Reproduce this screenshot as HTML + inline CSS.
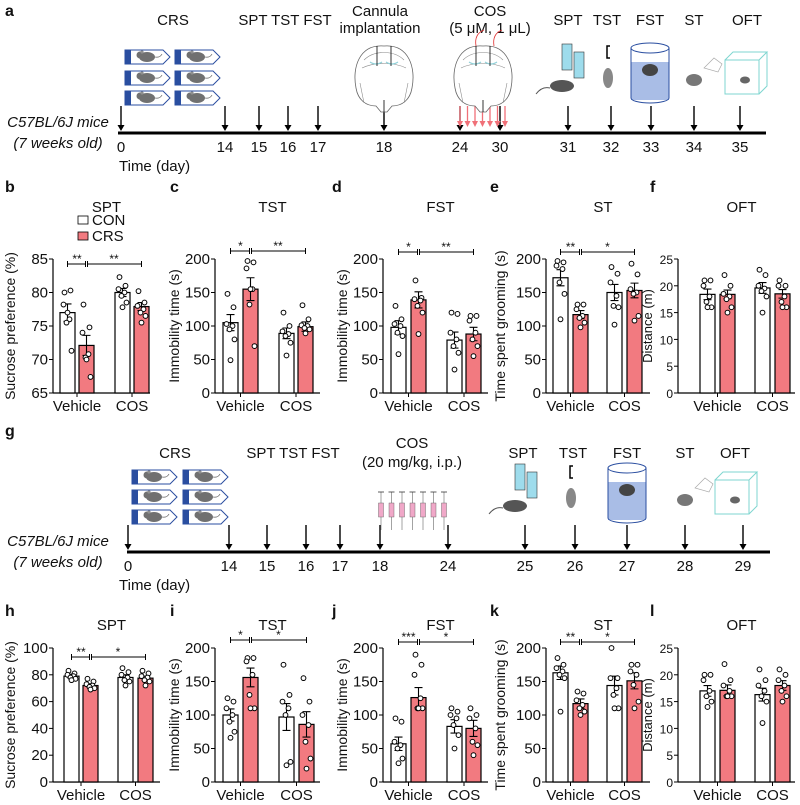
<!DOCTYPE html>
<html><head><meta charset="utf-8">
<style>
html,body{margin:0;padding:0;background:#fff;}
svg{display:block;font-family:"Liberation Sans",sans-serif;}
</style></head>
<body>
<svg id="fig" width="800" height="805" viewBox="0 0 800 805" xmlns="http://www.w3.org/2000/svg">
<defs>
<g id="mouse"><ellipse cx="0" cy="0" rx="8" ry="5" fill="#707070"/><circle cx="-7" cy="-2" r="3.5" fill="#707070"/><circle cx="-5" cy="-5" r="1.6" fill="#909090"/><path d="M8 0 q5 1 7 -3" stroke="#707070" fill="none" stroke-width="0.8"/></g>
<g id="tube"><path d="M0 0 h38 l7 7 l-7 7 h-38 z" fill="#fff" stroke="#2a4ea0" stroke-width="1"/><rect x="0" y="0" width="6" height="14" fill="#2a4ea0"/><use href="#mouse" x="22" y="7"/></g>
<g id="brain"><path d="M0 -32 C25 -34 32 -10 28 10 C26 22 18 28 8 28 L3 34 L-3 34 L-8 28 C-18 28 -26 22 -28 10 C-32 -10 -25 -34 0 -32 Z" fill="#fff" stroke="#666" stroke-width="0.8"/><path d="M-20 -18 C-10 -28 10 -28 20 -18 M-22 -10 C-10 -16 10 -16 22 -10 M-24 5 L-20 25 M24 5 L20 25" stroke="#888" fill="none" stroke-width="0.6"/><path d="M-14 -16 q6 4 12 0 M2 -16 q6 4 12 0" stroke="#8fd0d8" fill="none" stroke-width="1.2"/><line x1="-7" y1="-32" x2="-7" y2="-12" stroke="#000" stroke-width="0.8"/><line x1="7" y1="-32" x2="7" y2="-12" stroke="#000" stroke-width="0.8"/><line x1="0" y1="22" x2="0" y2="34" stroke="#000" stroke-width="0.8"/></g>
</defs>
<g id="static" font-size="13"></g>
<g id="charts"></g>
</svg>
<script>
// ===== chart data =====
const groups = ["CON-Vehicle","CRS-Vehicle","CON-COS","CRS-COS"];
const xCats = ["Vehicle","COS"];
const panelTitles = ["SPT","TST","FST","ST","OFT"];
const yTitlesTop = ["Sucrose preference (%)","Immobility time (s)","Immobility time (s)","Time spent grooming (s)","Distance (m)"];

const bMeans=[77,72.1,80,77.9]; const bErr=[1.3,1.5,0.6,0.6];
const bPts=[[80,80.3,78.2,76,75.5,71.3,77],[78.2,74.8,74,70.8,70.3,67.4,70],[82.3,81,80.5,80,79.5,78.5,77.8],[80.2,78.5,78,77.5,77,76.5,75.5]];
const cMeans=[105,155,89,99]; const cErr=[12,17,8,7];
const cPts=[[148,128,103,100,95,80,49],[197,195,186,155,132,70,155],[120,100,92,88,85,75,56],[131,110,101,100,97,95,89]];
const dMeans=[98,139,79,88]; const dErr=[10,12,12,10];
const dPts=[[130,110,103,100,90,85,58],[168,142,140,138,130,120,88],[120,118,90,80,70,60,35],[115,115,108,90,80,70,55]];
const eMeans=[172,117,150,153]; const eErr=[12,6,12,11];
const ePts=[[197,195,190,185,165,148,110],[132,132,125,115,112,105,98],[188,178,165,145,130,128,102],[193,177,155,150,148,115,108]];
const fMeans=[18.4,18.4,19.6,18.5]; const fErr=[1,0.8,1,0.8];
const fPts=[[21,21,20,18,17,16,16],[22,20,18.5,18,17.5,16,15],[23,22,20,19.5,19,18,15],[21,20,20,18,17,16,16]];

const hMeans=[79,72,78,77.5]; const hErr=[1.5,1.3,2,1.5];
const hPts=[[83,81,80,79,78,77,76],[77,75,73,72,71,70,69],[85,82,80,78,76,75,72],[83,81,79,78,76,75,72]];
const iMeans=[100,156,97,86]; const iErr=[9,14,20,19];
const iPts=[[125,120,110,100,90,75,66],[185,185,180,160,130,110,110],[175,130,120,110,100,30,25],[155,120,100,85,60,35,20]];
const jMeans=[57,126,83,80]; const jErr=[10,15,10,12];
const jPts=[[95,90,60,55,50,35,28],[190,175,160,125,110,110,110],[110,105,100,95,85,70,50],[110,100,95,80,60,55,40]];
const kMeans=[163,117,144,151]; const kErr=[10,7,14,12];
const kPts=[[185,175,170,165,160,155,105],[135,132,122,115,110,105,100],[200,155,155,140,130,110,110],[175,175,165,160,145,120,110]];
const lMeans=[17,17.1,16.3,18]; const lErr=[1,1,1.2,0.9];
const lPts=[[20,20,19,17,16,15,14],[22,19,18,17,16,16,16],[21,19,18,17,16,15,11],[21,20,19,18,17,16,15]];

const ticksSPT1=[65,70,75,80,85], ticks200=[0,50,100,150,200], ticks25=[0,5,10,15,20,25], ticksSPT2=[0,20,40,60,80,100];
const sigTop=[["**","**"],["*","**"],["*","**"],["**","*"],null];
const sigBot=[["**","*"],["*","*"],["***","*"],["**","*"],null];

const timelineA=[0,14,15,16,17,18,24,30,31,32,33,34,35];
const timelineG=[0,14,15,16,17,18,24,25,26,27,28,29];

// ===== drawing =====
const NS="http://www.w3.org/2000/svg";
const root=document.getElementById('charts');
const st=document.getElementById('static');
function mk(tag,attrs,parent){const e=document.createElementNS(NS,tag);for(const k in attrs)e.setAttribute(k,attrs[k]);(parent||root).appendChild(e);return e;}
function txt(x,y,s,size,parent,anchor,extra){const t=mk('text',Object.assign({x:x,y:y,'font-size':size,'text-anchor':anchor||'middle',fill:'#111'},extra||{}),parent);t.textContent=s;return t;}

[["a",5,16],["b",5,192],["c",170,192],["d",332,192],["e",490,192],["f",650,192],["g",5,436],["h",5,616],["i",170,616],["j",332,616],["k",490,616],["l",650,616]].forEach(p=>{
  const t=txt(p[1],p[2],p[0],16,st,'start',{'font-weight':'bold'});
  
  
});

function timeline(g,yLine,x0,x1,days,dayX,label){
  const grp=mk('g',{},st);
  
  
  mk('line',{x1:x0,y1:yLine,x2:x1,y2:yLine,stroke:'#000','stroke-width':3},grp);
  days.forEach((d,i)=>{
    const x=dayX[i];
    mk('line',{x1:x,y1:yLine-27,x2:x,y2:yLine-6,stroke:'#000','stroke-width':1.4},grp);
    mk('path',{d:`M${x-3.5} ${yLine-8} L${x+3.5} ${yLine-8} L${x} ${yLine-2} Z`,fill:'#000'},grp);
    const t=txt(x,yLine+19,String(d),15,grp);
    
    
  });
  txt(58,yLine-6,"C57BL/6J mice",15,grp,'middle',{'font-style':'italic'});
  txt(58,yLine+15,"(7 weeks old)",15,grp,'middle',{'font-style':'italic'});
  txt(119,yLine+38,"Time (day)",15,grp,'start');
  return grp;
}
const ga=timeline('a',133,118,766,timelineA,[121,225,259,288,318,384,460,500,568,611,651,694,740],'a');
[["CRS",173,25],["SPT TST FST",285,25],["Cannula",380,16],["implantation",380,33],["COS",490,16],["(5 μM, 1 μL)",490,33],["SPT",568,25],["TST",607,25],["FST",650,25],["ST",694,25],["OFT",747,25]].forEach(l=>txt(l[1],l[2],l[0],15,ga));
for(let k=0;k<7;k++){const x=460+k*7.5;mk('line',{x1:x,y1:106,x2:x,y2:124,stroke:'#f07078','stroke-width':1.3},ga);mk('path',{d:`M${x-3} ${121} L${x+3} 121 L${x} 127 Z`,fill:'#f07078'},ga);}
[[125,50],[175,50],[125,71],[175,71],[125,91],[175,91]].forEach(p=>mk('use',{href:'#tube',x:p[0],y:p[1]},ga));
mk('use',{href:'#brain',x:384,y:78},ga);mk('use',{href:'#brain',x:483,y:78},ga);
mk('path',{d:'M476 46 q-2 -12 8 -16 M494 46 q-2 -12 8 -16',stroke:'#e03030',fill:'none','stroke-width':0.8},ga);
function iconsRight(grp,xs,y){
  mk('rect',{x:xs[0]-8,y:y-36,width:10,height:26,fill:'#9edcec',stroke:'#333','stroke-width':0.6},grp);
  mk('rect',{x:xs[0]+4,y:y-28,width:10,height:26,fill:'#9edcec',stroke:'#333','stroke-width':0.6},grp);
  mk('ellipse',{cx:xs[0]-8,cy:y+6,rx:12,ry:6,fill:'#555'},grp);
  mk('path',{d:`M${xs[0]-20} ${y+8} q-8 -2 -14 6`,stroke:'#555',fill:'none'},grp);
  mk('path',{d:`M${xs[1]-2} ${y-34} h-3 v12 h3`,stroke:'#000',fill:'none','stroke-width':1.5},grp);
  mk('ellipse',{cx:xs[1]-4,cy:y-2,rx:5,ry:10,fill:'#888'},grp);
  mk('rect',{x:xs[2]-19,y:y-18,width:38,height:38,fill:'#a9bde6',stroke:'none'},grp);
  mk('path',{d:`M${xs[2]-19} ${y-32} v50 a19 5 0 0 0 38 0 v-50`,stroke:'#2a4ea0',fill:'none','stroke-width':1},grp);
  mk('ellipse',{cx:xs[2],cy:y-32,rx:19,ry:5,fill:'none',stroke:'#2a4ea0','stroke-width':1},grp);
  mk('ellipse',{cx:xs[2],cy:y-10,rx:8,ry:6,fill:'#444'},grp);
  mk('ellipse',{cx:xs[3],cy:y+0,rx:8,ry:6,fill:'#777'},grp);
  mk('path',{d:`M${xs[3]+10} ${y-12} l10 -10 l8 6 l-4 8 z`,stroke:'#aaa',fill:'none','stroke-width':0.7},grp);
  mk('path',{d:`M${xs[4]-20} ${y-20} h34 v34 h-34 z M${xs[4]-20} ${y-20} l8 -8 h34 l-8 8 M${xs[4]+14} ${y+14} l8 -8 v-34`,stroke:'#7fd6d0',fill:'none','stroke-width':1},grp);
  mk('ellipse',{cx:xs[4],cy:y,rx:5,ry:3.5,fill:'#666'},grp);
}
iconsRight(ga,[570,612,650,694,745],80);

const gg=timeline('g',552,127,770,timelineG,[128,229,267,306,340,380,448,525,575,627,685,743],'g');
[["CRS",175,458],["SPT TST FST",293,458],["COS",412,448],["(20 mg/kg, i.p.)",412,467],["SPT",523,458],["TST",573,458],["FST",627,458],["ST",685,458],["OFT",735,458]].forEach(l=>txt(l[1],l[2],l[0],15,gg));
[[132,470],[183,470],[132,490],[183,490],[132,510],[183,510]].forEach(p=>mk('use',{href:'#tube',x:p[0],y:p[1]},gg));
for(let k=0;k<7;k++){const x=381+k*10.5;mk('line',{x1:x,y1:492,x2:x,y2:530,stroke:'#666','stroke-width':0.6},gg);mk('rect',{x:x-2.5,y:503,width:5,height:14,fill:'#f0a8c8',stroke:'#555','stroke-width':0.4},gg);mk('line',{x1:x-3,y1:492,x2:x+3,y2:492,stroke:'#333','stroke-width':0.8},gg);}
iconsRight(gg,[523,575,627,685,735],500);

const leg=mk('g',{},st);


mk('rect',{x:78,y:216,width:10,height:8,fill:'#fff',stroke:'#000','stroke-width':0.8},leg);
txt(92,225,"CON",15,leg,'start');
mk('rect',{x:78,y:232,width:10,height:8,fill:'#f27a80',stroke:'#000','stroke-width':0.8},leg);
txt(92,241,"CRS",15,leg,'start');

const jit=[-3,3,-4,2,-1,4,0];
const yTitleOff=[38,36,36,41,26];
const tickFont=[15,15,15,15,12];
function chart(cfg){
  const g=mk('g',{});
  
  
  const y=v=>cfg.yBot-(v-cfg.ymin)/(cfg.ymax-cfg.ymin)*(cfg.yBot-cfg.yTop);
  const bw=15;
  txt((cfg.ax+cfg.xEnd)/2+5,cfg.titleY,cfg.title,15,g);
  mk('line',{x1:cfg.ax,y1:cfg.yTop,x2:cfg.ax,y2:cfg.yBot,stroke:'#000','stroke-width':1.2},g);
  mk('line',{x1:cfg.ax,y1:cfg.yBot,x2:cfg.xEnd,y2:cfg.yBot,stroke:'#000','stroke-width':1.2},g);
  cfg.ticks.forEach(t=>{mk('line',{x1:cfg.ax-4,y1:y(t),x2:cfg.ax,y2:y(t),stroke:'#000','stroke-width':1},g);
    const tl=txt(cfg.ax-5,y(t)+5,String(t),cfg.tf,g,'end');
    
    });
  const yt=txt(0,0,cfg.ytitle,cfg.tf<15?13:14,g,'middle',{transform:`translate(${cfg.ax-cfg.yoff},${(cfg.yTop+cfg.yBot)/2}) rotate(-90)`});
  
  
  xCats.forEach((c,i)=>{const cx=(cfg.bx[i*2]+cfg.bx[i*2+1]+bw)/2;
    mk('line',{x1:cx,y1:cfg.yBot,x2:cx,y2:cfg.yBot+4,stroke:'#000'},g);
    const xl=txt(cx,cfg.yBot+18,c,15,g);
    
    });
  cfg.means.forEach((m,i)=>{
    const x=cfg.bx[i];
    const r=mk('rect',{x:x,y:y(m),width:bw,height:cfg.yBot-y(m),fill:i%2?'#f27a80':'#fff',stroke:'#000','stroke-width':1.2},g);
    
    
    const cx=x+bw/2;
    mk('path',{d:`M${cx} ${y(m+cfg.err[i])} V${y(m-cfg.err[i])} M${cx-4} ${y(m+cfg.err[i])} h8 M${cx-4} ${y(m-cfg.err[i])} h8`,stroke:'#000','stroke-width':1.1,fill:'none'},g);
    cfg.pts[i].forEach((v,k)=>{
      const c=mk('circle',{cx:cx+jit[k],cy:y(v),r:2.4,fill:'#fff',stroke:'#000','stroke-width':1},g);
      
      
    });
  });
  if(cfg.sig){
    const by=cfg.sigY;
    const x1=cfg.bx[0]+bw/2,x2=cfg.bx[1]+bw/2,x3=cfg.bx[3]+bw/2;
    mk('path',{d:`M${x1} ${by-3} v6 M${x1} ${by} H${x2-1} M${x2-1} ${by-3} v6 M${x2+1} ${by-3} v6 M${x2+1} ${by} H${x3} M${x3} ${by-3} v6`,stroke:'#000','stroke-width':1,fill:'none'},g);
    txt((x1+x2)/2,by-1,cfg.sig[0],12,g);
    txt((x2+x3)/2,by-1,cfg.sig[1],12,g);
  }
}
const topX=[[53,150,[60,79,115,134]],[215,320,[223,243,279,298]],[383,488,[391,411,447,466]],[546,650,[553,573,607,627]],[678,795,[700,720,755,775]]];
const botX=[[53,160,[64,83,118,138]],[215,320,[223,243,279,299]],[383,488,[391,411,447,466]],[546,650,[553,573,607,627]],[678,795,[700,720,755,775]]];
const topData=[[bMeans,bErr,bPts,65,85,ticksSPT1,264],[cMeans,cErr,cPts,0,200,ticks200,251],[dMeans,dErr,dPts,0,200,ticks200,252],[eMeans,eErr,ePts,0,200,ticks200,252],[fMeans,fErr,fPts,0,25,ticks25,0]];
const botData=[[hMeans,hErr,hPts,0,100,ticksSPT2,657],[iMeans,iErr,iPts,0,200,ticks200,640],[jMeans,jErr,jPts,0,200,ticks200,642],[kMeans,kErr,kPts,0,200,ticks200,642],[lMeans,lErr,lPts,0,25,ticks25,0]];
const names1="bcdef",names2="hijkl";
topData.forEach((d,i)=>chart({name:names1[i],ax:topX[i][0],xEnd:topX[i][1],bx:topX[i][2],means:d[0],err:d[1],pts:d[2],ymin:d[3],ymax:d[4],ticks:d[5],sigY:d[6],sig:sigTop[i],yTop:259,yBot:393,title:panelTitles[i],titleY:212,ytitle:yTitlesTop[i],yoff:yTitleOff[i],tf:tickFont[i]}));
botData.forEach((d,i)=>chart({name:names2[i],ax:botX[i][0],xEnd:botX[i][1],bx:botX[i][2],means:d[0],err:d[1],pts:d[2],ymin:d[3],ymax:d[4],ticks:d[5],sigY:d[6],sig:sigBot[i],yTop:648,yBot:782,title:panelTitles[i],titleY:630,ytitle:yTitlesTop[i],yoff:yTitleOff[i],tf:tickFont[i]}));
</script>
</body></html>
